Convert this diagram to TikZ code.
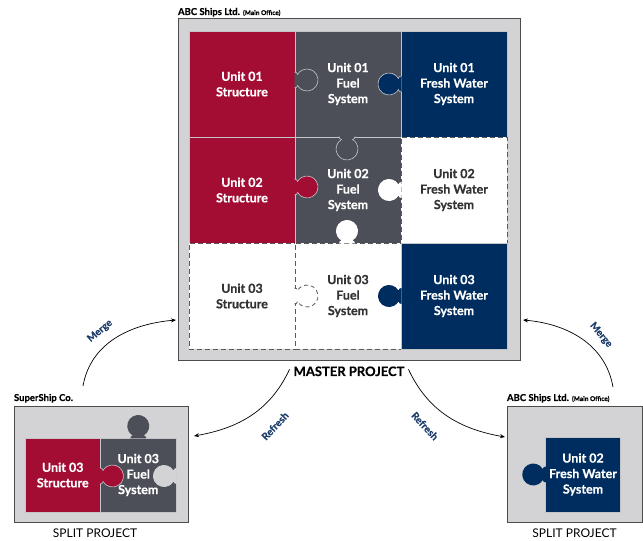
\documentclass[tikz,border=0pt]{standalone}
\usepackage{fontspec}
\setmainfont{Lato}[BoldFeatures={FakeBold=0.5}]
\usetikzlibrary{positioning,arrows.meta}

\definecolor{shipred}{HTML}{A30D33}
\definecolor{shipgray}{HTML}{4C4F57}
\definecolor{shipnavy}{HTML}{002D5F}
\definecolor{panel}{HTML}{D3D3D5}
\definecolor{rim}{HTML}{C4C5C9}
\definecolor{labelblue}{HTML}{1E3D6B}

\tikzset{
  knob/.pic={\path[pic actions] (-0.5,-8) .. controls (1,-8) and (2.5,-7) .. (2.5,-5.5)
    arc[start angle=-150,end angle=150,radius=11] .. controls (2.5,7) and (1,8) .. (-0.5,8);}
}

\begin{document}
\begin{tikzpicture}[x=1pt, y=1pt,
    every node/.style={align=center, inner sep=0pt, outer sep=0pt},
    cell/.style={minimum width=106pt, minimum height=106pt, text=white, draw=rim, line width=0.6pt,
      font=\fontsize{12.5}{15.5}\selectfont\bfseries},
    structure/.style={cell, fill=shipred},
    fuel/.style={cell, fill=shipgray},
    water/.style={cell, fill=shipnavy},
    blank/.style={cell, fill=white, text=black!80, draw=black!65, line width=0.9pt, dash pattern=on 5pt off 3pt},
    smallcell/.style={minimum width=75.5pt, minimum height=74pt},
    box/.style={draw=black!70, fill=panel, line width=1pt},
    owner/.style={anchor=base west, font=\fontsize{9.5}{10}\selectfont\bfseries},
    caption/.style={anchor=base, font=\fontsize{12}{14}\selectfont},
    flow/.style={-{Stealth[length=5pt,width=4pt]}, line width=0.7pt},
    flowlabel/.style={text=labelblue, font=\fontsize{10}{11}\selectfont\bfseries},
  ]
  \useasboundingbox (0,0) rectangle (643,541);

  % master project
  \node[box, minimum width=342pt, minimum height=342pt] (master) at (349,351) {};
  \node[owner] (masterowner) at ([yshift=4pt]master.north west) {ABC Ships Ltd. {\fontsize{6.5}{7}\selectfont(Main Office)}};
  \node[caption, font=\fontsize{13}{14}\selectfont\bfseries] (mastercap) at ([yshift=-15pt]master.south) {MASTER PROJECT};

  \node[structure] (s1) at (242,457) {Unit 01\\Structure};
  \node[fuel, right=0pt of s1] (f1) {Unit 01\\Fuel\\System};
  \node[water, right=0pt of f1] (w1) {Unit 01\\Fresh Water\\System};
  \node[structure, below=0pt of s1] (s2) {Unit 02\\Structure};
  \node[fuel, right=0pt of s2] (f2) {Unit 02\\Fuel\\System};
  \node[blank, right=0pt of f2] (w2) {Unit 02\\Fresh Water\\System};
  \node[blank, below=0pt of s2] (s3) {Unit 03\\Structure};
  \node[blank, right=0pt of s3] (f3) {Unit 03\\Fuel\\System};
  \node[water, right=0pt of f3] (w3) {Unit 03\\Fresh Water\\System};

  % puzzle knobs
  \pic[fill=shipgray, draw=rim, line width=0.6pt] at ([yshift=4pt]s1.east) {knob};
  \pic[fill=shipnavy, draw=rim, line width=0.6pt, rotate=180] at (w1.west) {knob};
  \pic[fill=shipgray, draw=rim, line width=0.6pt, rotate=-90] at ([xshift=-1pt]f2.north) {knob};
  \pic[fill=shipred, draw=rim, line width=0.6pt] at ([yshift=3pt]s2.east) {knob};
  \pic[fill=white, rotate=180] at (w2.west) {knob};
  \pic[fill=white, rotate=90] at ([xshift=-1pt]f3.north) {knob};
  \pic[fill=white, draw=black!65, line width=0.8pt, dash pattern=on 4pt off 3pt] at (s3.east) {knob};
  \pic[fill=shipnavy, rotate=180] at (w3.west) {knob};

  % split project, SuperShip
  \node[box, minimum width=174pt, minimum height=116pt] (superbox) at (101,76) {};
  \node[owner] (superowner) at ([yshift=6pt]superbox.north west) {SuperShip Co.};
  \node[caption] (supercap) at ([xshift=-6pt, yshift=-15pt]superbox.south) {SPLIT PROJECT};
  \node[structure, smallcell] (s4) at (62.75,66) {Unit 03\\Structure};
  \node[fuel, smallcell, right=0pt of s4] (f4) {Unit 03\\Fuel\\System};
  \pic[fill=shipgray, rotate=90] at (f4.north) {knob};
  \pic[fill=panel, rotate=180] at ([yshift=-1pt]f4.east) {knob};
  \pic[fill=shipred, draw=rim, line width=0.6pt] at ([yshift=-1pt]s4.east) {knob};

  % split project, main office
  \node[box, minimum width=135pt, minimum height=116pt] (officebox) at (574.5,76) {};
  \node[owner] (officeowner) at ([yshift=6pt]officebox.north west) {ABC Ships Ltd. {\fontsize{6.5}{7}\selectfont(Main Office)}};
  \node[caption] (officecap) at ([yshift=-15pt]officebox.south) {SPLIT PROJECT};
  \node[water, smallcell, minimum height=75pt] (w4) at (583,66.5) {Unit 02\\Fresh Water\\System};
  \pic[fill=shipnavy, rotate=180] at (w4.west) {knob};

  % merge and refresh
  \coordinate (mergeLfrom) at ([shift={(-18,21)}]superbox.north);
  \coordinate (mergeLto) at ([shift={(-2,-130)}]master.east -| master.west);
  \coordinate (refreshLfrom) at ([shift={(-4,2)}]mastercap.west);
  \coordinate (refreshLto) at ([shift={(6,29)}]superbox.east);
  \coordinate (refreshRfrom) at ([shift={(4,2)}]mastercap.east);
  \coordinate (refreshRto) at ([shift={(-2,28)}]officebox.west);
  \coordinate (mergeRfrom) at ([shift={(38.5,20)}]officebox.north);
  \coordinate (mergeRto) at ([shift={(3,-130)}]master.east);

  \draw[flow] (mergeLfrom) to[out=80, in=185] (mergeLto);
  \draw[flow] (refreshLfrom) to[out=-115, in=10] (refreshLto);
  \draw[flow] (refreshRfrom) to[out=-65, in=170] (refreshRto);
  \draw[flow] (mergeRfrom) to[out=100, in=-5] (mergeRto);

  \node[flowlabel, rotate=40] (mergeLtxt) at (100,210) {Merge};
  \node[flowlabel, rotate=47] (refreshLtxt) at (275,115) {Refresh};
  \node[flowlabel, rotate=-47] (refreshRtxt) at (425,115) {Refresh};
  \node[flowlabel, rotate=-50] (mergeRtxt) at (601,206) {Merge};
\end{tikzpicture}
\end{document}
